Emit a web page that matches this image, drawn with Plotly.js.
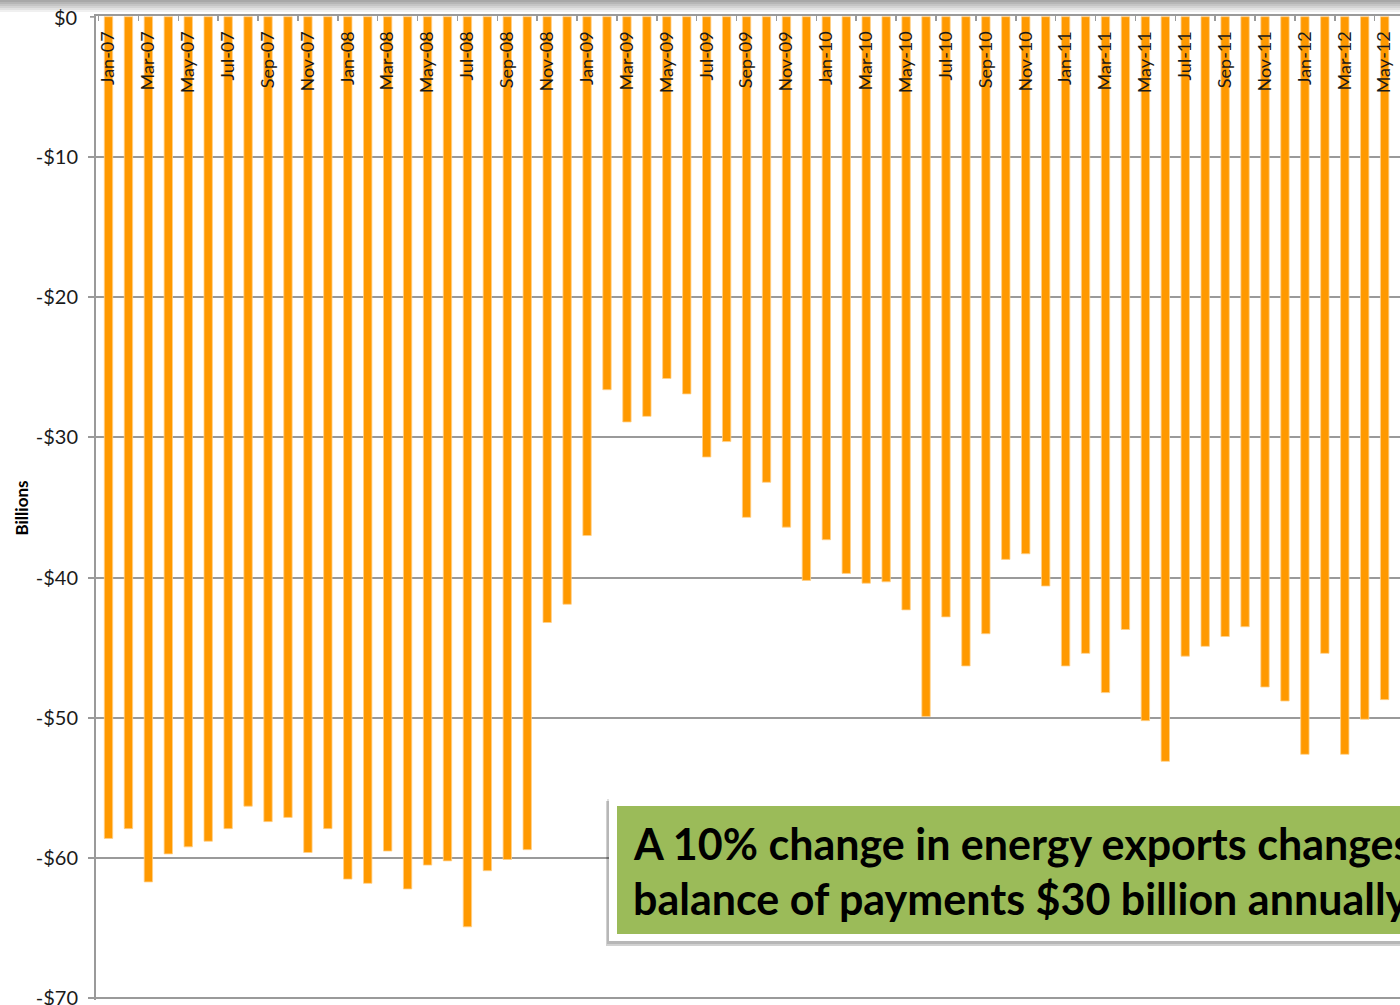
<!DOCTYPE html>
<html>
<head>
<meta charset="utf-8">
<script src="https://cdn.plot.ly/plotly-3.0.1.min.js"></script>
<style>
  html, body { margin: 0; padding: 0; background: #ffffff; overflow: hidden; }
  #chart { width: 1400px; height: 1005px; }
</style>
</head>
<body>
<div id="chart"></div>
<script>
// ---- Data ----
const months = [
  'Jan-07','Feb-07','Mar-07','Apr-07','May-07','Jun-07','Jul-07','Aug-07','Sep-07','Oct-07','Nov-07','Dec-07',
  'Jan-08','Feb-08','Mar-08','Apr-08','May-08','Jun-08','Jul-08','Aug-08','Sep-08','Oct-08','Nov-08','Dec-08',
  'Jan-09','Feb-09','Mar-09','Apr-09','May-09','Jun-09','Jul-09','Aug-09','Sep-09','Oct-09','Nov-09','Dec-09',
  'Jan-10','Feb-10','Mar-10','Apr-10','May-10','Jun-10','Jul-10','Aug-10','Sep-10','Oct-10','Nov-10','Dec-10',
  'Jan-11','Feb-11','Mar-11','Apr-11','May-11','Jun-11','Jul-11','Aug-11','Sep-11','Oct-11','Nov-11','Dec-11',
  'Jan-12','Feb-12','Mar-12','Apr-12','May-12'
];
const balance = [
  -58.6, -57.9, -61.7, -59.7, -59.2, -58.8, -57.9, -56.3, -57.4, -57.1, -59.6, -57.9,
  -61.5, -61.8, -59.5, -62.2, -60.5, -60.2, -64.9, -60.9, -60.1, -59.4, -43.2, -41.9,
  -37.0, -26.6, -28.9, -28.5, -25.8, -26.9, -31.4, -30.3, -35.7, -33.2, -36.4, -40.2,
  -37.3, -39.7, -40.4, -40.3, -42.3, -49.9, -42.8, -46.3, -44.0, -38.7, -38.3, -40.6,
  -46.3, -45.4, -48.2, -43.7, -50.2, -53.1, -45.6, -44.9, -44.2, -43.5, -47.8, -48.8,
  -52.6, -45.4, -52.6, -50.1, -48.7
];
const yTickVals = [0, -10, -20, -30, -40, -50, -60, -70];
const yTickText = ['$0', '-$10', '-$20', '-$30', '-$40', '-$50', '-$60', '-$70'];
const yAxisTitle = 'Billions';
const calloutLine1 = 'A 10% change in energy exports changes the';
const calloutLine2 = 'balance of payments $30 billion annually';

// ---- Derived ----
const xIdx = months.map((m, i) => i);
const labelIdx = xIdx.filter(i => i % 2 === 0);
const labelText = labelIdx.map(i => months[i]);
const boundaryTicks = labelIdx.map(i => i - 0.5);
const Y_RANGE = [-70.12, 0.05];

const FONT = 'Lato, "Noto Sans", sans-serif';
const GRID = '#9a9a9a';
const TICKFONT_Y = { family: FONT, size: 20, color: '#1a1a1a' };

const bars = {
  type: 'bar',
  x: xIdx,
  y: balance,
  width: 0.42,
  marker: { color: '#FF9900', line: { color: '#FFD089', width: 0.8 } },
  hoverinfo: 'skip'
};

// pixel helpers for paper-space decorations
const W = 1400, H = 1005, ML = 96, MR = 0, MT = 16, MB = 5;
const PW = W - ML - MR, PH = H - MT - MB;
const px = v => (v - ML) / PW;
const py = v => (H - MB - v) / PH;

const shapes = [];
// top slide-frame gradient
for (let k = 0; k < 6; k++) {
  shapes.push({
    type: 'rect', xref: 'paper', yref: 'paper', layer: 'above',
    x0: px(0), x1: px(1400), y0: py(2 * k + 2), y1: py(2 * k),
    fillcolor: 'rgba(110,110,110,' + (0.6 - k * 0.1).toFixed(2) + ')',
    line: { width: 0 }
  });
}
// y tick mark at the top value (its label is hidden by plotly next to the inside x labels)
shapes.push({ type: 'line', xref: 'paper', yref: 'y', layer: 'above',
  x0: px(90), x1: px(96), y0: yTickVals[0], y1: yTickVals[0],
  line: { color: GRID, width: 2 } });
// callout shadow
shapes.push({ type: 'rect', xref: 'paper', yref: 'paper', layer: 'above',
  x0: px(606), x1: px(1420), y0: py(946), y1: py(801),
  fillcolor: 'rgba(0,0,0,0.18)', line: { width: 0 } });
shapes.push({ type: 'rect', xref: 'paper', yref: 'paper', layer: 'above',
  x0: px(607), x1: px(1420), y0: py(944), y1: py(799),
  fillcolor: 'rgba(0,0,0,0.12)', line: { width: 0 } });
// white frame
shapes.push({ type: 'rect', xref: 'paper', yref: 'paper', layer: 'above',
  x0: px(609), x1: px(1420), y0: py(941), y1: py(798),
  fillcolor: '#ffffff', line: { width: 0 } });
// green box
shapes.push({ type: 'rect', xref: 'paper', yref: 'paper', layer: 'above',
  x0: px(617), x1: px(1420), y0: py(934), y1: py(806),
  fillcolor: '#9BBB59', line: { width: 0 } });

const annotations = [
  // top y tick label
  { xref: 'paper', yref: 'y', x: 0, y: yTickVals[0], xanchor: 'right', yanchor: 'middle',
    xshift: -17, text: yTickText[0], showarrow: false, font: TICKFONT_Y },
  { xref: 'paper', yref: 'paper', x: px(631), y: py(843), xanchor: 'left', yanchor: 'middle',
    text: '<b>' + calloutLine1 + '</b>', showarrow: false,
    font: { family: FONT, size: 43, color: '#000000' } },
  { xref: 'paper', yref: 'paper', x: px(631), y: py(898), xanchor: 'left', yanchor: 'middle',
    text: '<b>' + calloutLine2 + '</b>', showarrow: false,
    font: { family: FONT, size: 43, color: '#000000' } }
];

const layout = {
  width: W, height: H,
  margin: { l: ML, r: MR, t: MT, b: MB },
  paper_bgcolor: '#ffffff', plot_bgcolor: '#ffffff',
  showlegend: false,
  bargap: 0.58,
  xaxis: {
    type: 'linear',
    side: 'top',
    range: [-0.627, 64.77],
    tickmode: 'array',
    tickvals: labelIdx,
    ticktext: labelText,
    tickangle: -90,
    ticklabelposition: 'inside',
    ticklabelstandoff: 6,
    ticks: '',
    tickfont: { family: FONT, size: 18, color: '#1a1a1a' },
    showgrid: false,
    zeroline: false,
    showline: true, linecolor: GRID, linewidth: 2,
    minor: { tickmode: 'array', tickvals: boundaryTicks, ticks: 'inside', ticklen: 5, tickcolor: GRID, tickwidth: 1.5, showgrid: false },
    fixedrange: true
  },
  yaxis: {
    range: Y_RANGE,
    tickmode: 'array',
    tickvals: yTickVals,
    ticktext: yTickText,
    ticks: 'outside', ticklen: 6, tickcolor: GRID, tickwidth: 2,
    ticklabelstandoff: 6,
    ticklabeloverflow: 'allow',
    tickfont: TICKFONT_Y,
    showgrid: true, gridcolor: GRID, gridwidth: 2,
    zeroline: false,
    showline: true, linecolor: GRID, linewidth: 2,
    title: { text: '<b>' + yAxisTitle + '</b>', font: { family: FONT, size: 17, color: '#000000' }, standoff: 3 },
    fixedrange: true
  },
  shapes: shapes,
  annotations: annotations
};

Plotly.newPlot('chart', [bars], layout, { displayModeBar: false, staticPlot: true });
</script>
</body>
</html>
